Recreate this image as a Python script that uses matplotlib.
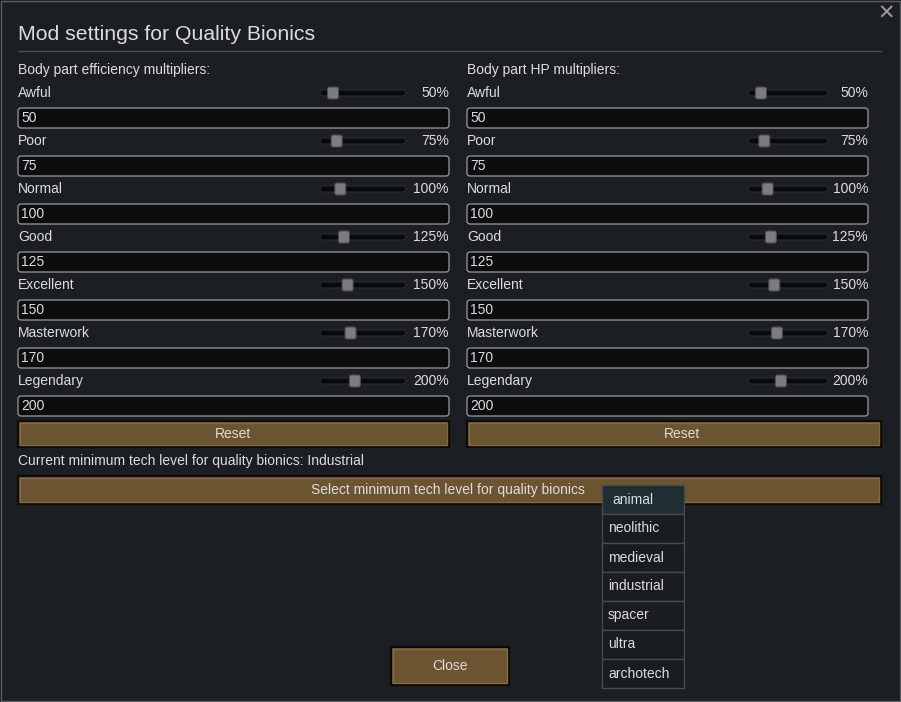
import matplotlib
matplotlib.use("Agg")
import matplotlib.pyplot as plt
from matplotlib.patches import Rectangle, FancyBboxPatch

plt.rcParams['font.family'] = ['Liberation Sans', 'DejaVu Sans']

qualities = ["Awful", "Poor", "Normal", "Good", "Excellent", "Masterwork", "Legendary"]
efficiency = [50, 75, 100, 125, 150, 170, 200]
hp = [50, 75, 100, 125, 150, 170, 200]
tech_levels = ["animal", "neolithic", "medieval", "industrial", "spacer", "ultra", "archotech"]

fig = plt.figure(figsize=(9.01, 7.02), dpi=100)
fig.patch.set_facecolor("#15171a")
ax = fig.add_axes([0, 0, 1, 1])
ax.set_xlim(0, 901); ax.set_ylim(702, 0); ax.axis("off")
TXT = "#dcdcdc"
FS = 10

ax.add_patch(Rectangle((1, 1), 899, 700, fc="#1b1e22", ec="#5a5e63", lw=1))
ax.text(18, 34, "Mod settings for Quality Bionics", color=TXT, fontsize=15.3, va="center")
ax.plot([18, 881], [51, 51], color="#4a4e54", lw=1)
ax.text(886, 14, "✕", color="#9a9a9a", fontsize=15, ha="center", va="center", fontweight="bold",
        family="DejaVu Sans")

def column(x0, x1, title, vals, tr0, tr1, slope, zero):
    ax.text(x0, 70, title, color=TXT, fontsize=FS, va="center")
    for i, (q, v) in enumerate(zip(qualities, vals)):
        y = 93 + 48 * i
        ax.text(x0, y, q, color=TXT, fontsize=FS, va="center")
        ax.text(x1, y, f"{v}%", color=TXT, fontsize=FS, va="center", ha="right")
        ax.add_patch(FancyBboxPatch((tr0, y - 3), tr1 - tr0, 6, boxstyle="round,pad=0,rounding_size=3",
                                    fc="#08090a", ec="#2a2c2f", lw=0.8))
        tx = zero + v * slope
        ax.add_patch(FancyBboxPatch((tx - 5.5, y - 6), 11, 12, boxstyle="round,pad=0,rounding_size=2",
                                    fc="#7a7c7e", ec="#4a4c4e", lw=0.8))
        ax.add_patch(FancyBboxPatch((x0, y + 15), x1 - x0, 20, boxstyle="round,pad=0,rounding_size=3",
                                    fc="#0b0c0e", ec="#9a9c9e", lw=0.9))
        ax.text(x0 + 3, y + 25, str(v), color=TXT, fontsize=FS, va="center")

column(18, 449, "Body part efficiency multipliers:", efficiency, 320, 406, 0.146, 325.7)
column(467, 868, "Body part HP multipliers:", hp, 748, 828, 0.133, 754.3)

def button(x, y, w, h, label, cx=None):
    ax.add_patch(Rectangle((x, y), w, h, fc="#6b5530", ec="#0a0a0a", lw=1.5))
    ax.add_patch(Rectangle((x + 2, y + 2), w - 4, h - 4, fc="none", ec="#85693c", lw=1))
    ax.text(cx if cx else x + w / 2, y + h / 2, label, color=TXT, fontsize=FS, ha="center", va="center")

button(18, 421, 431, 26, "Reset")
button(467, 421, 414, 26, "Reset", cx=682)
ax.text(18, 461, "Current minimum tech level for quality bionics: Industrial", color=TXT, fontsize=FS, va="center")
button(18, 476, 863, 28, "Select minimum tech level for quality bionics", cx=448)
button(391, 647, 118, 38, "Close")

for i, t in enumerate(tech_levels):
    y = 485 + 29 * i
    ax.add_patch(Rectangle((602, y), 82, 29, fc="#1f2e33" if i == 0 else "#1a1d20", ec="#454a4f", lw=1))
    ax.text(602 + (10 if i == 0 else 6), y + 14.5, t, color=TXT, fontsize=FS, va="center")

fig.savefig("out.png", dpi=100, facecolor=fig.get_facecolor())
